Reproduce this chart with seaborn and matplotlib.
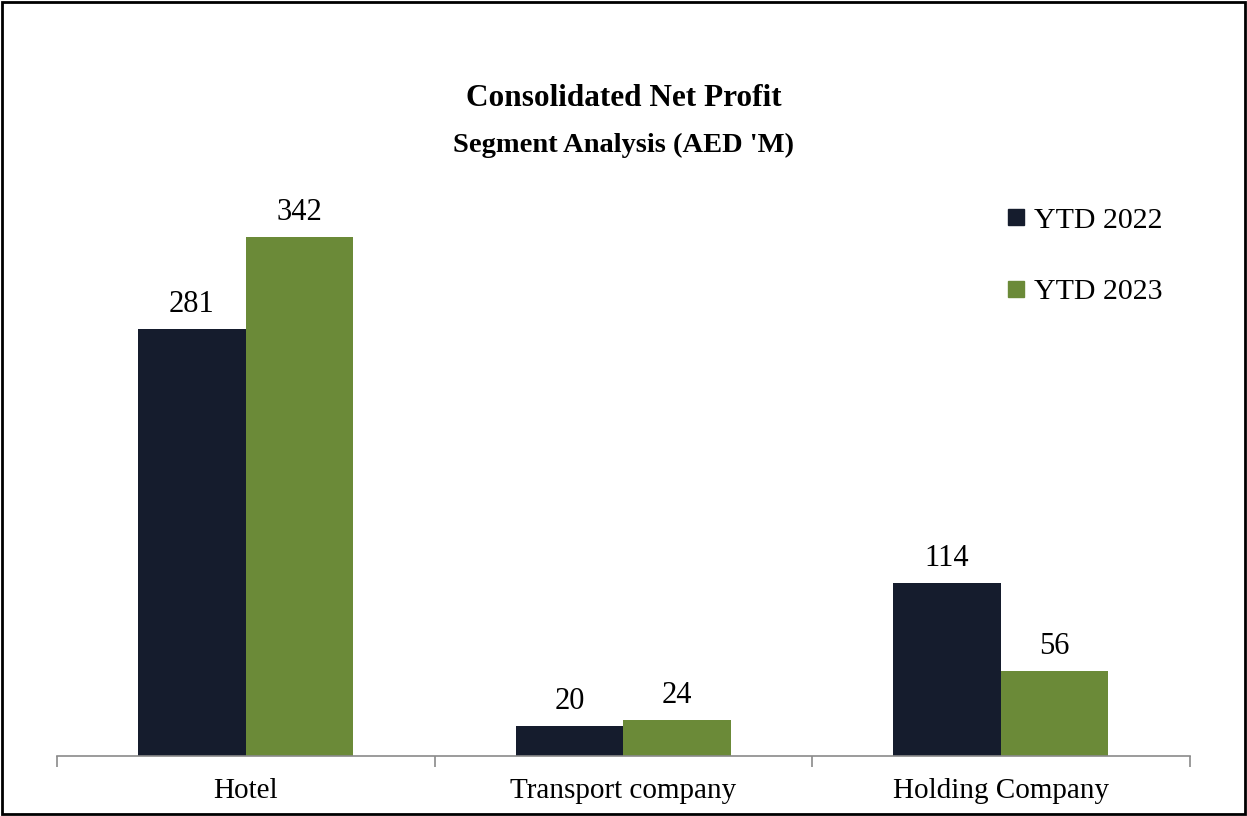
import pandas as pd
import matplotlib.pyplot as plt
import matplotlib.patches as mpatches
from matplotlib.lines import Line2D
import seaborn as sns

segments = ["Hotel", "Transport company", "Holding Company"]
ytd_2022 = [281, 20, 114]
ytd_2023 = [342, 24, 56]
series_names = ["YTD 2022", "YTD 2023"]
colors = ["#151c2d", "#6b8a38"]

df = pd.DataFrame({
    "segment": segments * 2,
    "value": ytd_2022 + ytd_2023,
    "period": [series_names[0]] * 3 + [series_names[1]] * 3,
})

sns.set_theme(style="white")
plt.rcParams["font.family"] = ["Liberation Serif", "DejaVu Serif"]
plt.rcParams["text.color"] = "black"

fig = plt.figure(figsize=(12.47, 8.16), dpi=100)
ax = fig.add_axes([0.0457, 0.0735, 0.9083, 0.7055])

sns.barplot(data=df, x="segment", y="value", hue="period", palette=colors,
            width=0.57, gap=0, saturation=1, linewidth=0, edgecolor="none",
            ax=ax, legend=False)

for container in ax.containers:
    ax.bar_label(container, fmt="%d", padding=7, fontsize=22, color="black")

ax.set_ylim(0, 379)
ax.set_xlim(-0.5, 2.5)
ax.set_xlabel("")
ax.set_ylabel("")
ax.set_yticks([])
for s in ["top", "right", "left"]:
    ax.spines[s].set_visible(False)
ax.spines["bottom"].set_color("#8a8a8a")
ax.spines["bottom"].set_linewidth(1.2)
ax.set_xticks([-0.5, 0.5, 1.5, 2.5], minor=True)
ax.tick_params(axis="x", which="major", length=0, labelsize=21, pad=16, colors="black")
ax.tick_params(axis="x", which="minor", length=8, width=1.2, color="#8a8a8a", direction="out", bottom=True)

fig.text(0.5, 1 - 99 / 816, "Consolidated Net Profit", ha="center", va="center",
         fontsize=22.5, fontweight="bold")
fig.text(0.5, 1 - 145 / 816, "Segment Analysis (AED 'M)", ha="center", va="center",
         fontsize=20.5, fontweight="bold")

handles = [Line2D([], [], marker="s", linestyle="", color=c, markersize=11) for c in colors]
fig.legend(handles, series_names, loc="upper left", bbox_to_anchor=(971 / 1247, 1 - 180 / 816),
           frameon=False, fontsize=21.5, labelspacing=1.5, handletextpad=0.0, handlelength=1.2)

fig.add_artist(mpatches.Rectangle((0.002, 0.003), 0.996, 0.994, transform=fig.transFigure,
                                  fill=False, edgecolor="black", linewidth=2))

fig.savefig("out.png", dpi=100)
